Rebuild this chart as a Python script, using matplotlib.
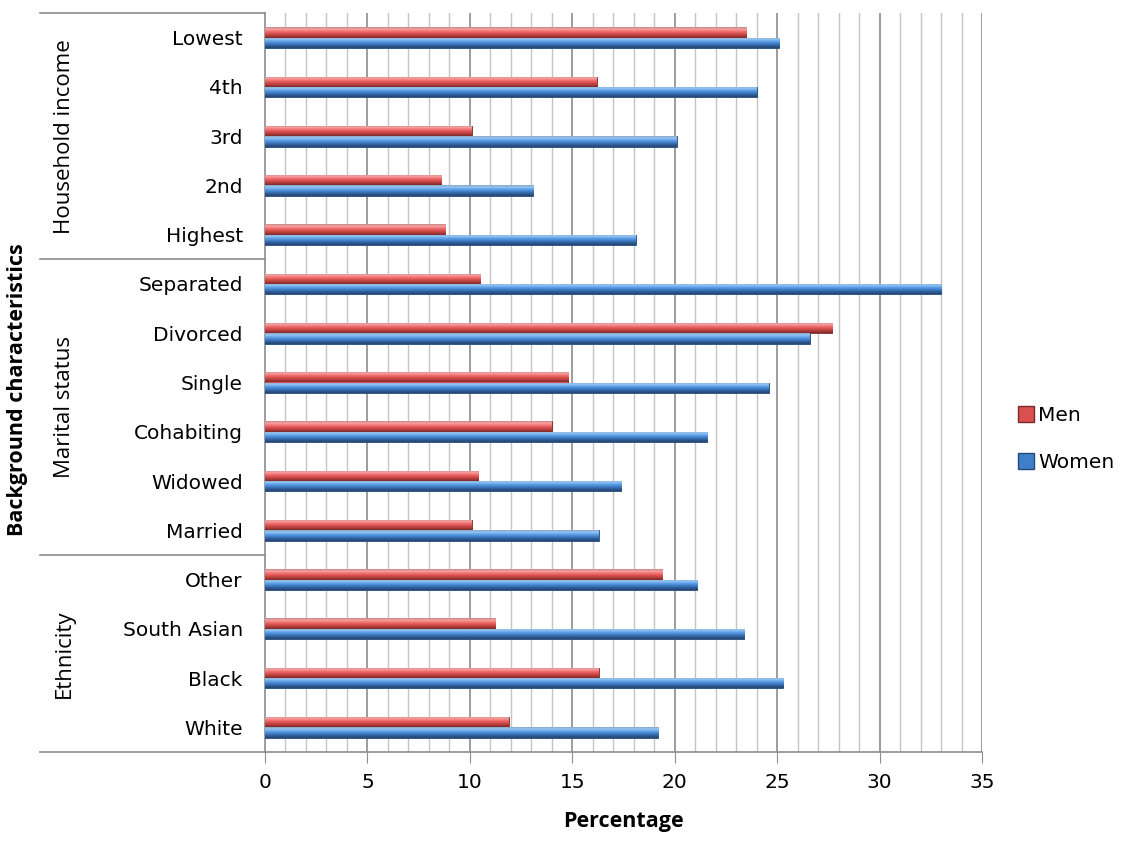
import matplotlib
matplotlib.use("Agg")
import matplotlib.pyplot as plt
import numpy as np
from matplotlib.colors import LinearSegmentedColormap
from matplotlib.lines import Line2D
from matplotlib.transforms import blended_transform_factory

# categories from bottom to top
categories = ["White", "Black", "South Asian", "Other",
              "Married", "Widowed", "Cohabiting", "Single", "Divorced", "Separated",
              "Highest", "2nd", "3rd", "4th", "Lowest"]
men = [11.9, 16.3, 11.25, 19.4,
       10.1, 10.4, 14.0, 14.8, 27.7, 10.5,
       8.8, 8.6, 10.1, 16.2, 23.5]
women = [19.2, 25.3, 23.4, 21.1,
         16.3, 17.4, 21.6, 24.6, 26.6, 33.0,
         18.1, 13.1, 20.1, 24.0, 25.1]
groups = ["Ethnicity", "Marital status", "Household income"]
group_spans = [(0, 3), (4, 9), (10, 14)]

fig = plt.figure(figsize=(11.46, 8.59), dpi=100)
ax = fig.add_axes([265 / 1146, 1 - 752 / 859, (982 - 265) / 1146, (752 - 13) / 859])

y = np.arange(len(categories))
h = 0.21

red_cmap = LinearSegmentedColormap.from_list(
    "r", ["#7e2a2a", "#b03c3c", "#d9504f", "#ef6e6e", "#f7a0a0", "#c98a8a"])
blue_cmap = LinearSegmentedColormap.from_list(
    "b", ["#24446e", "#2f5c96", "#3f7fc9", "#5b9de6", "#93c4f4", "#8aa9c8"])
grad = np.linspace(0, 1, 64).reshape(-1, 1)

men_bars = ax.barh(y + h / 2, men, height=h, color="#d9504f",
                   edgecolor="#7a2b2b", linewidth=0.6, zorder=3)
women_bars = ax.barh(y - h / 2, women, height=h, color="#3f7fc9",
                     edgecolor="#244a78", linewidth=0.6, zorder=3)

# shaded fill for each bar, clipped to the bar itself
for bars, cmap in ((men_bars, red_cmap), (women_bars, blue_cmap)):
    for bar in bars:
        x0, y0 = bar.get_x(), bar.get_y()
        im = ax.imshow(grad, cmap=cmap, origin="lower", aspect="auto",
                       extent=[x0, x0 + bar.get_width(), y0, y0 + bar.get_height()],
                       zorder=3.5, interpolation="bilinear")
        im.set_clip_path(bar)

ax.set_xlim(0, 35)
ax.set_ylim(-0.5, len(categories) - 0.5)

# gridlines: light every unit, darker every five
for v in range(1, 36):
    major = v % 5 == 0
    ax.axvline(v, color="#8c8c8c" if major else "#c4c4c4",
               linewidth=1.2 if major else 1.0, zorder=1)

ax.set_xticks(range(0, 36, 5))
ax.set_yticks(y)
ax.set_yticklabels(categories)
ax.tick_params(axis="x", direction="out", length=8, color="#8c8c8c",
               labelsize=14.5, pad=7)
ax.tick_params(axis="y", length=0, labelsize=14.5, pad=16)
for s in ("top", "right"):
    ax.spines[s].set_visible(False)
ax.spines["left"].set_color("#8c8c8c")
ax.spines["bottom"].set_color("#8c8c8c")
ax.spines["left"].set_linewidth(1.2)
ax.spines["bottom"].set_linewidth(1.2)

# group separators and labels on the left
tr = blended_transform_factory(fig.transFigure, ax.transData)
x_left = 40 / 1146
x_axis = 265 / 1146
for yy in (-0.5, 3.5, 9.5, len(categories) - 0.5):
    ax.add_line(Line2D([x_left, x_axis], [yy, yy], transform=tr,
                       color="#8c8c8c", linewidth=1.2, clip_on=False))
for name, (a, b) in zip(groups, group_spans):
    ax.text(64 / 1146, (a + b) / 2, name, transform=tr, rotation=90,
            ha="center", va="center", fontsize=16,
            family=["Liberation Sans Narrow", "Open Sans", "DejaVu Sans"])

fig.text(18 / 1146, 1 - 390 / 859, "Background characteristics", rotation=90,
         ha="center", va="center", fontsize=15.5, fontweight="bold",
         family=["Open Sans", "DejaVu Sans"])
fig.text(623 / 1146, 1 - 822 / 859, "Percentage", ha="center", va="center",
         fontsize=15.5, fontweight="bold", family=["Open Sans", "DejaVu Sans"])

handles = [Line2D([], [], marker="s", linestyle="none", markersize=11,
                  markerfacecolor="#d9504f", markeredgecolor="#7a2b2b"),
           Line2D([], [], marker="s", linestyle="none", markersize=11,
                  markerfacecolor="#3f7fc9", markeredgecolor="#244a78")]
fig.legend(handles, ["Men", "Women"], loc="center left",
           bbox_to_anchor=(998 / 1146, 1 - 439 / 859), frameon=False,
           fontsize=14.5, handletextpad=0.1, labelspacing=1.4, handlelength=1.0)

fig.savefig("out.png", dpi=100)
